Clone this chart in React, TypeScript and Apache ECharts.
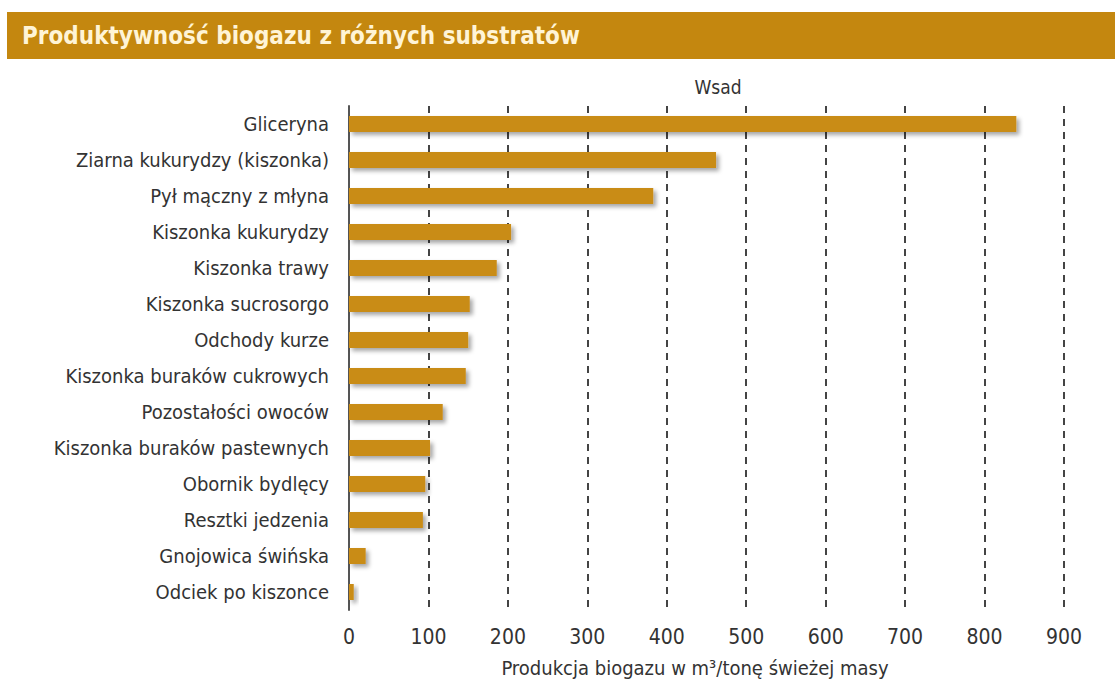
import React, { useEffect, useRef } from "react";
import * as echarts from "echarts";

const categories = [
  "Gliceryna",
  "Ziarna kukurydzy (kiszonka)",
  "Pył mączny z młyna",
  "Kiszonka kukurydzy",
  "Kiszonka trawy",
  "Kiszonka sucrosorgo",
  "Odchody kurze",
  "Kiszonka buraków cukrowych",
  "Pozostałości owoców",
  "Kiszonka buraków pastewnych",
  "Obornik bydlęcy",
  "Resztki jedzenia",
  "Gnojowica świńska",
  "Odciek po kiszonce",
];
const values = [840, 462, 383, 204, 186, 152, 150, 147, 118, 102, 96, 93, 21, 6];
const xTicks = [0, 100, 200, 300, 400, 500, 600, 700, 800, 900];
const titleText = "Produktywność biogazu z różnych substratów";
const seriesName = "Wsad";
const xAxisName = "Produkcja biogazu w m³/tonę świeżej masy";

const FONT = "'DejaVu Sans Condensed', 'Liberation Sans Narrow', 'Open Sans', sans-serif";

export default function App() {
  const ref = useRef<HTMLDivElement>(null);
  useEffect(() => {
    if (!ref.current) return;
    const chart = echarts.init(ref.current, null, { renderer: "svg" });
    chart.setOption({
      animation: false,
      backgroundColor: "#ffffff",
      textStyle: { fontFamily: FONT },
      title: {
        text: seriesName,
        left: 713,
        top: 72,
        textAlign: "center",
        textStyle: { fontFamily: FONT, fontSize: 19, fontWeight: "normal", color: "#333" },
      },
      graphic: [
        {
          type: "rect",
          shape: { x: 7, y: 12, width: 1108, height: 47 },
          style: { fill: "#C4870F" },
        },
        {
          type: "text",
          x: 22,
          y: 36,
          style: {
            text: titleText,
            fontFamily: FONT,
            fontSize: 24,
            fontWeight: "bold",
            fill: "#FFF4D6",
            verticalAlign: "middle",
          },
        },
        {
          type: "text",
          x: 695,
          y: 668,
          style: {
            text: xAxisName,
            fontFamily: FONT,
            fontSize: 20,
            fill: "#333",
            align: "center",
            verticalAlign: "middle",
          },
        },
      ],
      grid: { left: 349, right: 51, top: 106, bottom: 78, containLabel: false },
      xAxis: {
        type: "value",
        min: 0,
        max: 900,
        interval: 100,
        axisLine: { show: false },
        axisTick: { show: false },
        axisLabel: {
          fontFamily: FONT,
          fontSize: 21,
          color: "#333",
          margin: 16,
          formatter: (v: number) => (xTicks.includes(v) ? String(v) : ""),
        },
        splitLine: {
          show: true,
          lineStyle: { type: [7, 6], color: "#444", width: 2 },
        },
      },
      yAxis: {
        type: "category",
        inverse: true,
        data: categories,
        axisLine: { show: true, lineStyle: { color: "#555", width: 2 } },
        axisTick: { show: false },
        axisLabel: { fontFamily: FONT, fontSize: 20, color: "#333", margin: 20 },
      },
      series: [
        {
          name: seriesName,
          type: "bar",
          data: values,
          barWidth: 16,
          itemStyle: {
            color: "#C98C18",
            shadowColor: "rgba(0,0,0,0.35)",
            shadowBlur: 4,
            shadowOffsetX: 3,
            shadowOffsetY: 3,
          },
        },
      ],
    });
    return () => chart.dispose();
  }, []);
  return <div ref={ref} style={{ position: "fixed", left: 0, top: 0, width: 1115, height: 688 }} />;
}
